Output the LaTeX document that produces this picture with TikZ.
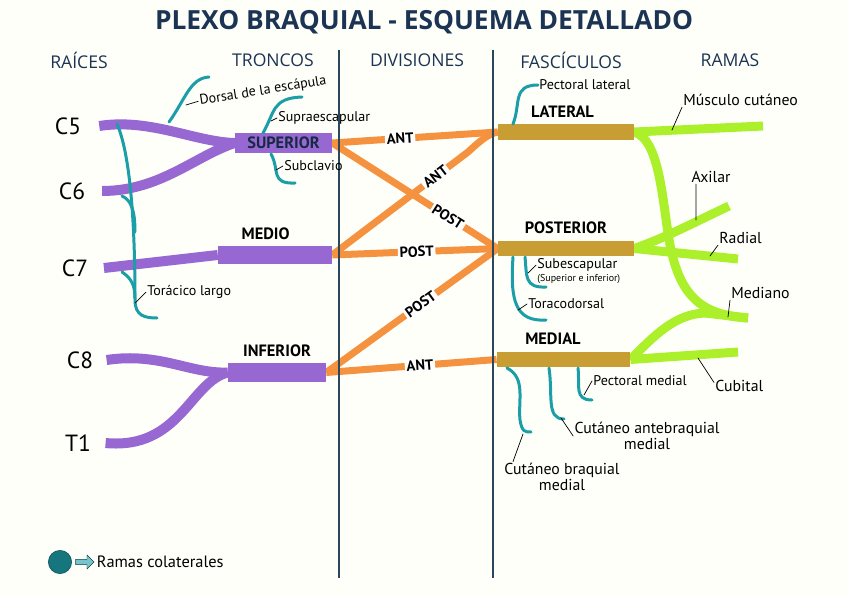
\documentclass[tikz,border=0pt]{standalone}
\usepackage{fontspec}
\setmainfont{PT Sans}
\newfontfamily\headfont{Open Sans}
\usepackage{tikz}
\usetikzlibrary{calc,positioning,shapes.arrows,backgrounds}
\definecolor{plexnavy}{RGB}{28,52,84}
\definecolor{plexpurple}{RGB}{152,104,210}
\definecolor{plexorange}{RGB}{245,146,64}
\definecolor{plexgold}{RGB}{200,158,52}
\definecolor{plexlime}{RGB}{172,240,44}
\definecolor{plexteal}{RGB}{28,158,168}
\definecolor{plexline}{RGB}{44,70,92}

\begin{document}
\begin{tikzpicture}[x=0.03cm,y=-0.03cm,line cap=round,
    head/.style={text=plexnavy,font=\headfont\fontsize{15}{17}\selectfont},
    rootlbl/.style={font=\fontsize{20}{22}\selectfont},
    trunk/.style={rectangle,fill=plexpurple,inner sep=0pt,text=plexnavy!80!black,
                  font=\bfseries\fontsize{14}{16}\selectfont},
    cord/.style={rectangle,fill=plexgold,inner sep=0pt,minimum height=0.47cm},
    biglbl/.style={font=\bfseries\fontsize{14}{16}\selectfont},
    rootline/.style={plexpurple,line width=0.3cm},
    divline/.style={plexorange,line width=0.21cm},
    branchline/.style={plexlime,line width=0.27cm},
    colline/.style={plexteal,line width=0.09cm},
    tick/.style={black,line width=0.6pt},
    lbl/.style={font=\fontsize{12}{13}\selectfont,inner sep=1pt},
    ramalbl/.style={font=\fontsize{13.5}{14}\selectfont,inner sep=1pt},
    divlbl/.style={text=black,font=\bfseries\fontsize{12.5}{14}\selectfont,fill=white,
                   inner sep=1.5pt,sloped}]

  \useasboundingbox (0,0) rectangle (848,595);
  \begin{scope}[on background layer]
    \fill[white!98!yellow] (0,0) rectangle (848,595);
  \end{scope}

  % title and column heads
  \node[text=plexnavy,font=\headfont\bfseries\fontsize{22.5}{26}\selectfont] (title) at (424,22)
    {PLEXO BRAQUIAL - ESQUEMA DETALLADO};
  \node[head] (hraices) at (79,60) {RAÍCES};
  \node[head] (htroncos) at (273,60) {TRONCOS};
  \node[head] (hdiv) at (417,60) {DIVISIONES};
  \node[head] (hfasc) at (571,60) {FASCÍCULOS};
  \node[head] (hramas) at (730,60) {RAMAS};
  \draw[plexline,line width=1.2pt,line cap=butt] (339,50) -- (339,578);
  \draw[plexline,line width=1.2pt,line cap=butt] (493,50) -- (493,578);

  % roots and trunks
  \node[rootlbl] (c5) at (68,126) {C5};
  \node[rootlbl] (c6) at (72,191) {C6};
  \node[rootlbl] (c7) at (75,268) {C7};
  \node[rootlbl] (c8) at (80,360) {C8};
  \node[rootlbl] (t1) at (78,443) {T1};

  \node[trunk,minimum width=2.91cm,minimum height=0.6cm] (sup) at (283.5,143) {SUPERIOR};
  \node[trunk,minimum width=3.42cm,minimum height=0.54cm] (med) at (275,255) {};
  \node[trunk,minimum width=2.94cm,minimum height=0.57cm] (inf) at (277,372.5) {};
  \node[biglbl,above=2pt of med,xshift=-8pt] (medlbl) {MEDIO};
  \node[biglbl,above=2pt of inf] (inflbl) {INFERIOR};

  % cords
  \node[cord,minimum width=4.08cm] (lat) at (566,132) {};
  \node[cord,minimum width=4.08cm] (post) at (566,248.5) {};
  \node[cord,minimum width=4.0cm] (medl) at (563.5,359.5) {};
  \node[biglbl,above=2pt of lat,xshift=-3pt] (latlbl) {LATERAL};
  \node[biglbl,above=2pt of post] (postlbl) {POSTERIOR};
  \node[biglbl,above=2pt of medl,xshift=-9pt] (medllbl) {MEDIAL};

  \coordinate (mcut) at (763,126);
  \coordinate (axil) at (729,206);
  \coordinate (radl) at (738,259);
  \coordinate (medn) at (748,318);
  \coordinate (cubt) at (738,352);

  \begin{scope}[on background layer]
    \draw[rootline] ([xshift=12pt]c5.east) .. controls (150,118) and (195,142) .. (sup.west);
    \draw[rootline] ([xshift=11pt]c6.east) .. controls (160,191) and (195,156) .. (sup.west);
    \draw[rootline] ([xshift=10pt]c7.east) -- (med.west);
    \draw[rootline] ([xshift=8pt]c8.east) .. controls (160,352) and (190,374) .. (inf.west);
    \draw[rootline] ([xshift=9pt]t1.east) .. controls (180,450) and (190,382) .. (inf.west);

    \draw[divline] (sup.east) -- node[divlbl,pos=0.41] {ANT} (lat.west);
    \draw[divline] (sup.east) -- node[divlbl,pos=0.7] {POST} (post.west);
    \draw[divline] (med.east) -- node[divlbl,pos=0.76] {ANT} (468,152)
      .. controls (480,141) and (488,134) .. (lat.west);
    \draw[divline] (med.east) -- node[divlbl,pos=0.51] {POST} (post.west);
    \draw[divline] (inf.east) -- node[divlbl,pos=0.55] {POST} (post.west);
    \draw[divline] (inf.east) -- node[divlbl,pos=0.55] {ANT} (medl.west);

    \draw[branchline] (lat.east) -- (mcut);
    \draw[branchline] (lat.east) .. controls (660,140) and (662,200) .. (670,245)
      .. controls (680,295) and (700,315) .. (medn);
    \draw[branchline] (post.east) .. controls (665,238) and (695,222) .. (axil);
    \draw[branchline] (post.east) -- (radl);
    \draw[branchline] (medl.east) .. controls (655,335) and (675,314) .. (705,313) -- (medn);
    \draw[branchline] (medl.east) -- (cubt);
  \end{scope}

  % collateral branches of roots and trunks
  \node[lbl,rotate=9] (dorsal) at (263,91) {Dorsal de la escápula};
  \node[lbl,anchor=west] (supra) at (277,118) {Supraescapular};
  \node[lbl,anchor=west] (subcl) at (283,166) {Subclavio};
  \node[lbl,anchor=west] (torac) at (146,292) {Torácico largo};
  \draw[colline] (169,122) .. controls (185,100) and (190,78) .. (209,77);
  \draw[colline] (263,133) .. controls (275,112) and (272,98) .. (302,97);
  \draw[colline] (271,154) .. controls (280,170) and (270,184) .. (295,183);
  \draw[colline] (117,124) .. controls (133,160) and (135,250) .. (135,300)
    .. controls (135,316) and (145,318) .. (157,318);
  \draw[colline] (122,196) .. controls (131,200) and (135,210) .. (135,232);
  \draw[colline] (122,272) .. controls (131,278) and (135,285) .. (135,298);
  \draw[tick] (186,105) -- (dorsal.west);
  \draw[tick] (271,121) -- (supra.west);
  \draw[tick] (276,170) -- (subcl.west);
  \draw[tick] (135,303) -- (torac.west);

  % collateral branches of cords
  \node[lbl,anchor=west] (pectl) at (538,85) {Pectoral lateral};
  \node[lbl,anchor=west] (subesc) at (536,265) {Subescapular};
  \node[font=\fontsize{8.5}{9}\selectfont,anchor=north west,inner sep=1pt] (subsub)
    at (subesc.south west) {(Superior e inferior)};
  \node[lbl,anchor=west] (torcd) at (527,304) {Toracodorsal};
  \node[lbl,anchor=west] (pectm) at (592,381) {Pectoral medial};
  \node[ramalbl,align=center] (cutab) at (647,436) {Cutáneo antebraquial\\medial};
  \node[ramalbl,align=center] (cutbr) at (562,477) {Cutáneo braquial\\medial};
  \draw[colline] (513,124) .. controls (521,104) and (512,85) .. (pectl.west);
  \draw[colline] (525,257) .. controls (527,276) and (524,288) .. (546,287);
  \draw[colline] (513,257) .. controls (510,300) and (515,322) .. (546,320);
  \draw[colline] (578,368) .. controls (580,386) and (574,400) .. (592,400);
  \draw[colline] (549,368) .. controls (553,395) and (546,419) .. (564,419);
  \draw[colline] (507,368) .. controls (526,378) and (518,400) .. (520,420)
    .. controls (522,432) and (525,432) .. (531,432);
  \draw[tick] (528,273) -- (subesc.west);
  \draw[tick] (518,310) -- (torcd.west);
  \draw[tick] (584,395) -- (pectm.west);
  \draw[tick] (561,418) -- (cutab.west);
  \draw[tick] (523,434) -- ($(cutbr.north west)+(10,0)$);

  % terminal branches
  \node[ramalbl,anchor=west] (mclbl) at (682,100) {Músculo cutáneo};
  \node[ramalbl] (axlbl) at (711,177) {Axilar};
  \node[ramalbl,anchor=west] (radlbl) at (718,238) {Radial};
  \node[ramalbl,anchor=west] (mdlbl) at (730,293) {Mediano};
  \node[ramalbl,anchor=west] (cblbl) at (714,386) {Cubital};
  \draw[tick] (672,130) -- (mclbl.south west);
  \draw[tick] (696,220) -- ([xshift=5pt]axlbl.south west);
  \draw[tick] (710,256) -- (radlbl.south west);
  \draw[tick] (728,317) -- (mdlbl.south west);
  \draw[tick] (698,358) -- ([yshift=3pt]cblbl.west);

  % legend
  \node[circle,fill=plexteal!75!black,draw=plexteal!45!black,minimum size=0.7cm,inner sep=0pt]
    (legdot) at (60,562) {};
  \node[single arrow,draw=plexteal!40!black,fill=plexteal!60,minimum height=0.55cm,
        minimum width=0.42cm,single arrow head extend=2pt,inner sep=1pt,right=3pt of legdot] (legarr) {};
  \node[ramalbl,font=\fontsize{14}{15}\selectfont,right=1pt of legarr] (legtxt) {Ramas colaterales};
\end{tikzpicture}
\end{document}
